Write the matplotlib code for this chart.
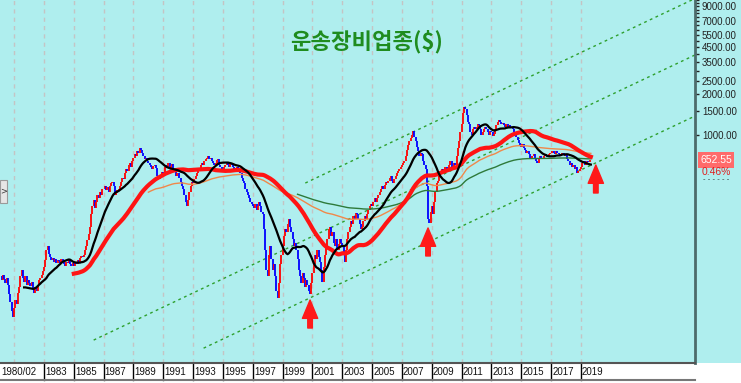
import numpy as np
import pandas as pd
import matplotlib
matplotlib.use('Agg')
import matplotlib.pyplot as plt
from matplotlib.patches import Rectangle
from matplotlib.lines import Line2D
from matplotlib.ticker import NullLocator, FixedLocator, FixedFormatter
from matplotlib.transforms import blended_transform_factory

# monthly closes, starting 1980/02 (one line per year)
start_year = 1980
start_month = 2
monthly_close = [
    90, 84, 92, 86, 80, 88, 78, 66, 58, 50, 45,                      # 1980
    52, 60, 56, 68, 75, 90, 100, 88, 82, 90, 78, 84,                 # 1981
    80, 76, 82, 72, 68, 75, 70, 78, 85, 88, 92, 98,                  # 1982
    105, 118, 140, 150, 132, 125, 118, 122, 115, 120, 112, 118,      # 1983
    116, 112, 120, 114, 110, 108, 115, 112, 118, 110, 108, 112,      # 1984
    108, 112, 110, 118, 115, 122, 128, 125, 130, 140, 150, 168,      # 1985
    185, 210, 260, 300, 330, 290, 320, 360, 340, 380, 360, 400,      # 1986
    400, 420, 390, 410, 380, 420, 440, 450, 420, 360, 370, 390,      # 1987
    400, 420, 450, 480, 470, 520, 560, 540, 600, 620, 580, 640,      # 1988
    680, 720, 700, 760, 740, 800, 770, 740, 700, 660, 680, 640,      # 1989
    620, 600, 580, 560, 590, 600, 570, 500, 470, 480, 510, 530,      # 1990
    520, 580, 600, 570, 620, 560, 590, 610, 560, 540, 500, 520,      # 1991
    520, 480, 450, 420, 400, 360, 320, 300, 330, 380, 420, 450,      # 1992
    440, 470, 500, 520, 540, 560, 600, 620, 600, 640, 660, 680,      # 1993
    700, 660, 680, 640, 620, 600, 620, 650, 660, 600, 580, 560,      # 1994
    560, 580, 600, 620, 600, 580, 610, 600, 580, 560, 570, 580,      # 1995
    560, 540, 520, 480, 460, 440, 400, 380, 360, 340, 320, 310,      # 1996
    300, 290, 310, 280, 300, 320, 300, 270, 260, 200, 140, 100,      # 1997
    90, 130, 150, 120, 100, 110, 90, 70, 62, 80, 110, 130,           # 1998
    150, 180, 200, 190, 220, 240, 210, 190, 170, 150, 160, 140,      # 1999
    120, 100, 90, 80, 95, 88, 75, 85, 78, 70, 66, 80,                # 2000
    95, 110, 130, 120, 140, 125, 115, 100, 82, 105, 130, 150,        # 2001
    170, 200, 210, 180, 190, 160, 150, 170, 140, 155, 170, 160,      # 2002
    150, 130, 115, 140, 170, 190, 210, 230, 220, 250, 240, 265,      # 2003
    260, 240, 220, 200, 210, 230, 250, 240, 260, 280, 300, 310,      # 2004
    300, 320, 340, 320, 340, 360, 380, 400, 420, 400, 430, 450,      # 2005
    440, 460, 480, 500, 460, 440, 470, 500, 520, 540, 560, 580,      # 2006
    600, 620, 640, 700, 780, 850, 900, 950, 1000, 1080, 960, 900,    # 2007
    820, 760, 700, 740, 720, 640, 600, 560, 420, 240, 225, 270,      # 2008
    300, 260, 320, 380, 440, 460, 500, 540, 560, 520, 560, 580,      # 2009
    560, 540, 600, 640, 580, 560, 620, 600, 700, 800, 900, 1050,     # 2010
    1200, 1450, 1600, 1550, 1400, 1250, 1200, 1050, 1000, 1100, 1150, 1100,  # 2011
    1150, 1200, 1180, 1100, 1000, 1050, 1100, 1150, 1100, 1050, 1000, 1080,  # 2012
    1050, 980, 1020, 1100, 1180, 1250, 1300, 1250, 1200, 1220, 1180, 1150,   # 2013
    1200, 1150, 1180, 1120, 1150, 1100, 1050, 1000, 960, 920, 880, 850,      # 2014
    820, 860, 800, 780, 740, 760, 720, 680, 660, 700, 720, 680,      # 2015
    640, 620, 680, 700, 680, 660, 700, 720, 700, 690, 720, 740,      # 2016
    740, 760, 740, 720, 760, 740, 720, 700, 720, 740, 720, 700,      # 2017
    720, 660, 640, 600, 620, 580, 600, 560, 580, 520, 540, 560,      # 2018
    580, 620, 640, 600, 620, 640, 630, 649.56, 652.55,               # 2019
]

# moving averages (months): long ones exponential, short ones simple
ma_windows = [240, 120, 60, 20]
ma_kinds = ['ema', 'ema', 'sma', 'sma']
ma_colors = ['#2e7a3a', '#f0884a', '#ff1414', '#000000']
ma_widths = [1.0, 1.0, 3.0, 1.6]

# trend channel anchors (year, value)
channel_dates = [[1993.7, 2026.65], [1986.33, 2026.65], [2000.52, 2026.65]]
channel_vals = [[26.4, 1383], [30.3, 3916], [441, 10260]]

# red arrows under the lows
arrow_dates = [2000.84, 2008.75, 2020.0]
arrow_vals = [60, 205, 600]

ytick_vals = list(range(1000, 10001, 500))
ytick_labeled = [1000, 1500, 2000, 2500, 3500, 4500, 5500, 7000, 9000]
xlabel_years = list(range(1983, 2020, 2))
grid_years = list(range(1981, 2020, 2))

title = '운송장비업종($)'
BG = '#afeeee'
num_font = ['Liberation Sans Narrow', 'Liberation Sans']

c = np.array(monthly_close, dtype=float)
t = start_year + (start_month - 1 + np.arange(len(c))) / 12.0

W, H = 741, 383
fig = plt.figure(figsize=(W / 100, H / 100), dpi=100, facecolor=BG)
fig.patches.append(Rectangle((0, 0), 1, 20 / H, transform=fig.transFigure,
                             fc='white', ec='none', zorder=-5))
ax = fig.add_axes([0, 20 / H, 695 / W, 363 / H])
ax.set_facecolor(BG)
ax.set_yscale('log')
ax.set_xlim(1980.05, 2026.65)
ax.set_ylim(20.5, 10000)

for s in ['left', 'top']:
    ax.spines[s].set_visible(False)
ax.spines['bottom'].set_color('#555555')
ax.spines['bottom'].set_linewidth(1.5)
ax.spines['right'].set_color('#4d6b6b')
ax.spines['right'].set_linewidth(2)

# y axis on the right
ax.yaxis.tick_right()
ax.yaxis.set_major_locator(FixedLocator(ytick_vals))
ax.yaxis.set_major_formatter(FixedFormatter(
    [f'{v:.2f}' if v in ytick_labeled else '' for v in ytick_vals]))
ax.yaxis.set_minor_locator(NullLocator())
ax.tick_params(axis='y', direction='out', length=3, width=1, colors='#222222',
               labelsize=7, pad=2, labelfontfamily=num_font)
ax.set_xticks([])

# vertical dashed grid
for yr in grid_years:
    ax.axvline(yr, color='#c4c4c4', lw=1, ls=(0, (3, 3)), zorder=1)

# monthly bars: red up, blue down
prev = np.r_[c[0], c[:-1]]
up = c >= prev
ax.vlines(t, np.minimum(prev, c), np.maximum(prev, c),
          colors=np.where(up, '#ff0000', '#0000ff'), lw=1.3, zorder=2)

# moving averages
s = pd.Series(c)
for w, kind, col, lw in zip(ma_windows, ma_kinds, ma_colors, ma_widths):
    if kind == 'ema':
        ma = s.ewm(span=w, min_periods=w).mean()
    else:
        ma = s.rolling(w).mean()
    ax.plot(t, ma, color=col, lw=lw, zorder=3)

# trend channel
for d, v in zip(channel_dates, channel_vals):
    ax.plot(d, v, color='#2ea02e', lw=1, ls=(0, (2, 2.5)), zorder=1.5)

# arrows
for d, v in zip(arrow_dates, arrow_vals):
    ax.annotate('', xy=(d, v), xytext=(0, -28), textcoords='offset pixels',
                arrowprops=dict(arrowstyle='simple,head_length=1.2,head_width=1.0,tail_width=0.3',
                                color='#ff1a1a', mutation_scale=11, shrinkA=0, shrinkB=0),
                zorder=4)

ax.text(0.527, 0.884, title, transform=ax.transAxes, ha='center', va='center',
        fontsize=16, fontweight='bold', color='#1f8c1f', family='Noto Sans CJK KR')

# date labels under the plot
blend = blended_transform_factory(ax.transData, ax.transAxes)
xl = ax.get_xlim()[0]
ax.text(xl + 0.12, -0.026, f'{start_year}/{start_month:02d}', transform=blend,
        ha='left', va='center', fontsize=7, color='#111111', family=num_font, clip_on=False)
for yr in xlabel_years:
    ax.plot([yr, yr], [0, -0.047], transform=blend, color='black', lw=1, clip_on=False)
    ax.text(yr + 0.07, -0.026, str(yr), transform=blend, ha='left', va='center',
            fontsize=7, color='#111111', family=num_font, clip_on=False)
fig.add_artist(Line2D([0, 695 / W], [3 / H, 3 / H], transform=fig.transFigure,
                      color='#777777', lw=1.5))

# last price box
last, before = c[-1], c[-2]
yblend = blended_transform_factory(ax.transAxes, ax.transData)
ax.text(716 / 695, last, f'{last:.2f}', transform=yblend, ha='center', va='center',
        fontsize=7.5, color='white', family=num_font,
        bbox=dict(boxstyle='square,pad=0.25', fc='#ff6b6b', ec='none'))
ax.annotate(f'{(last / before - 1) * 100:.2f}%', xy=(716 / 695, last), xycoords=yblend,
            xytext=(0, -12), textcoords='offset pixels', ha='center', va='center',
            fontsize=7.5, color='#e02020', family=num_font)
ax.annotate('- - - - - -', xy=(716 / 695, last), xycoords=yblend,
            xytext=(0, -19), textcoords='offset pixels', ha='center', va='center',
            fontsize=5, color='#333333')

# small side tab on the left edge
fig.patches.append(Rectangle((0, (H - 203) / H), 7 / W, 23 / H, transform=fig.transFigure,
                             fc='#e6e6e6', ec='#9a9a9a', lw=0.8, zorder=5))
fig.text(3.5 / W, (H - 191) / H, '>', ha='center', va='center', fontsize=6,
         color='#333333', zorder=6)

fig.savefig('out.png', dpi=100, facecolor=fig.get_facecolor())
